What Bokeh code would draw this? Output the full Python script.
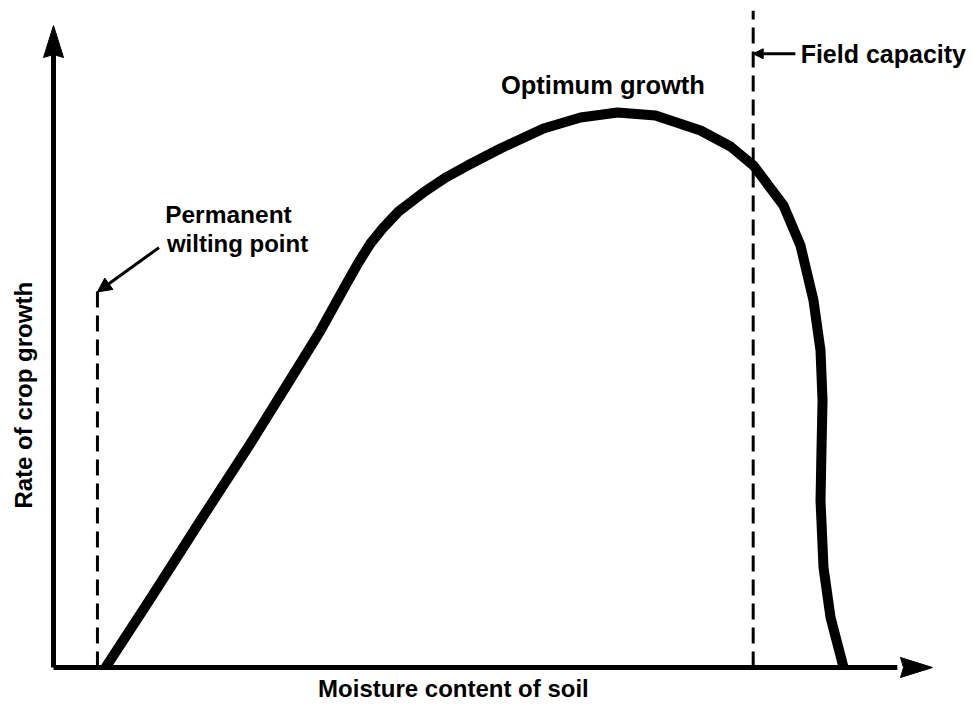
import numpy as np
from bokeh.plotting import figure
from bokeh.models import Range1d, Arrow, NormalHead
from bokeh.core.properties import value
from bokeh.embed import file_html
from bokeh.resources import INLINE

# ---- data (arbitrary units: moisture 0..100 along x axis, growth 0..100 along y axis)
moisture = [5.92, 11.04, 16.72, 22.41, 26.73, 30.38, 33.22, 34.70, 36.06, 37.54,
            39.25, 42.09, 44.60, 47.10, 50.85, 55.75, 59.95, 64.16, 68.49, 73.61,
            77.02, 79.64, 83.05, 84.98, 86.46, 87.26, 87.49, 87.37, 87.26, 87.60,
            88.40, 89.53, 89.88]
growth = [0.0, 10.75, 22.90, 34.89, 44.39, 52.49, 59.50, 63.08, 66.04, 68.54,
          71.03, 73.99, 76.32, 78.19, 80.84, 83.96, 85.67, 86.45, 85.98, 83.64,
          81.15, 78.19, 71.96, 65.73, 57.17, 49.38, 41.59, 33.80, 26.01, 15.58,
          7.79, 1.87, 0.0]

wilting_point_x = 5.0
wilting_line_top = 59.5
field_capacity_x = 79.6
field_line_top = 102.3

labels = {
    "optimum": "Optimum growth",
    "field": "Field capacity",
    "perm1": "Permanent",
    "perm2": "wilting point",
    "xlab": "Moisture content of soil",
    "ylab": "Rate of crop growth",
}

# ---- pixel mapping (figure pixels) ----
W, H = 970, 702
X0_PX, X100_PX = 53, 932     # figure px of x=0 and x=100
Y0_PX, Y100_PX = 667, 25     # figure px (from top) of y=0 and y=100
sx = (X100_PX - X0_PX) / 100.0
sy = (Y0_PX - Y100_PX) / 100.0

p = figure(width=W, height=H, output_backend="svg", toolbar_location=None,
           x_axis_type=None, y_axis_type=None, min_border=0,
           x_range=Range1d(-X0_PX / sx, (W - X0_PX) / sx),
           y_range=Range1d(-(H - Y0_PX) / sy, Y0_PX / sy))
p.outline_line_color = None
p.background_fill_color = "white"
p.border_fill_color = "white"

# axes lines
p.line([0, 0], [0, 96], line_width=5, color="black")
p.line([0, 96], [0, 0], line_width=5, color="black")
# arrow heads (length 32 px, width 20 px)
hl_y, hw_y = 32 / sy, 10 / sx
p.patch([0, hw_y, 0, -hw_y], [100, 100 - hl_y, 100 - hl_y + 3 / sy, 100 - hl_y], color="black")
hl_x, hw_x = 32 / sx, 10 / sy
p.patch([100, 100 - hl_x, 100 - hl_x + 3 / sx, 100 - hl_x], [0, hw_x, 0, -hw_x], color="black")

# dashed reference lines
p.line([wilting_point_x, wilting_point_x], [0, wilting_line_top], line_width=3,
       line_dash="16 8", color="black")
p.line([field_capacity_x, field_capacity_x], [0, field_line_top], line_width=3,
       line_dash="16 8", color="black")

# growth curve
p.line(moisture, growth, line_width=10, color="black", line_join="round", line_cap="butt")

# pointer arrows
p.add_layout(Arrow(end=NormalHead(size=14, fill_color="black", line_color="black"),
                   x_start=12.0, y_start=65.4, x_end=wilting_point_x, y_end=58.5,
                   line_width=3, line_color="black"))
p.add_layout(Arrow(end=NormalHead(size=10, fill_color="black", line_color="black"),
                   x_start=84.4, y_start=95.6, x_end=field_capacity_x, y_end=95.6,
                   line_width=3, line_color="black"))

font = value("Liberation Sans")
common = dict(text_font=font, text_font_style="bold", text_color="black")
dy = -9

p.text(x=[50.9], y=[89.4], text=[labels["optimum"]], text_align="left", y_offset=dy,
       text_baseline="alphabetic", text_font_size="25.5px", **common)
p.text(x=[85.0], y=[94.2], text=[labels["field"]], text_align="left", y_offset=dy,
       text_baseline="alphabetic", text_font_size="25px", **common)
p.text(x=[12.7], y=[69.2], text=[labels["perm1"]], text_align="left", y_offset=dy,
       text_baseline="alphabetic", text_font_size="24.5px", **common)
p.text(x=[12.9], y=[64.6], text=[labels["perm2"]], text_align="left", y_offset=dy,
       text_baseline="alphabetic", text_font_size="24px", **common)
p.text(x=[45.5], y=[-4.6], text=[labels["xlab"]], text_align="center", y_offset=dy,
       text_baseline="alphabetic", text_font_size="24px", **common)
p.text(x=[-3.4], y=[42.4], text=[labels["ylab"]], text_align="center",
       text_baseline="middle", angle=np.pi / 2, text_font_size="24px", **common)

open("out.html", "w").write(file_html(p, INLINE))
